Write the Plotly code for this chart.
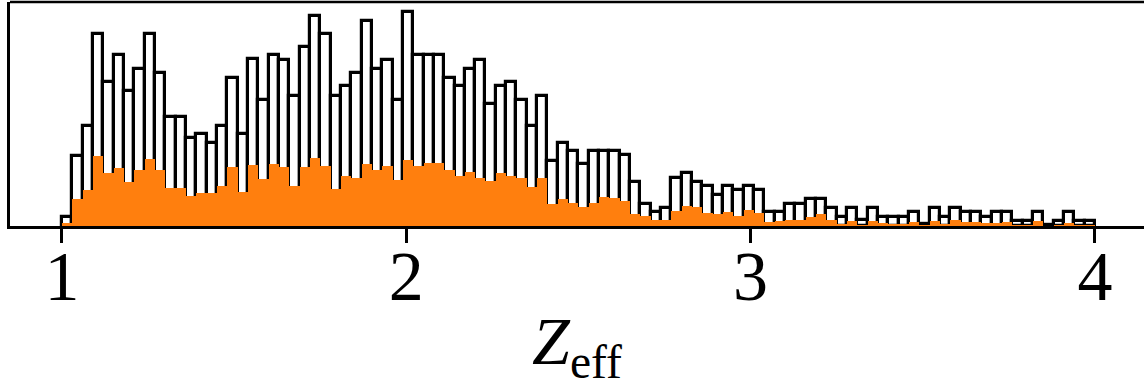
import numpy as np
import plotly.graph_objects as go

# Histogram bins: 100 bins between Z_eff = 1 and 4
bin_lo, bin_hi, n_bins = 1.0, 4.0, 100

# Counts (arbitrary units)
all_counts = [
    9, 70, 100, 193, 145, 172, 136, 158, 193, 154,
    109, 109, 88, 92, 83, 100, 149, 92, 168, 127,
    172, 167, 131, 180, 211, 193, 131, 141, 154, 206,
    158, 167, 127, 215, 172, 172, 172, 149, 141, 158,
    167, 123, 141, 145, 127, 100, 131, 65, 83, 75,
    62, 75, 75, 75, 71, 44, 22, 14, 18, 48,
    53, 44, 40, 31, 40, 36, 40, 36, 14, 14,
    22, 22, 27, 27, 18, 9, 18, 6, 18, 9,
    9, 9, 14, 2, 18, 9, 18, 14, 14, 9,
    14, 14, 5, 5, 14, 1, 5, 14, 5, 5,
]
sub_counts = [
    3, 27, 36, 70, 53, 58, 44, 56, 67, 56,
    38, 38, 30, 33, 33, 40, 59, 34, 61, 47,
    62, 59, 40, 59, 68, 60, 37, 50, 48, 62,
    56, 60, 46, 66, 60, 63, 63, 56, 50, 54,
    48, 45, 53, 50, 48, 39, 48, 22, 27, 23,
    19, 23, 29, 28, 25, 12, 10, 6, 6, 15,
    20, 19, 13, 12, 14, 10, 16, 13, 4, 5,
    6, 6, 9, 12, 6, 2, 5, 1, 5, 3,
    2, 2, 4, 1, 5, 2, 6, 4, 4, 3,
    3, 4, 1, 1, 5, 0, 1, 3, 1, 1,
]

tick_vals = [1, 2, 3, 4]
tick_text = ["1", "2", "3", "4"]

edges = np.linspace(bin_lo, bin_hi, n_bins + 1)
centers = 0.5 * (edges[:-1] + edges[1:])
bw = edges[1] - edges[0]

fig = go.Figure()
fig.add_trace(go.Bar(
    x=centers, y=all_counts, width=bw,
    marker=dict(color="white", line=dict(color="black", width=3.2)),
    showlegend=False,
))
fig.add_trace(go.Bar(
    x=centers, y=sub_counts, width=bw,
    marker=dict(color="#ff7f0e", line=dict(width=0)),
    showlegend=False,
))

font_family = "Liberation Serif, DejaVu Serif, serif"
fig.update_layout(
    width=1144, height=388,
    barmode="overlay", bargap=0,
    paper_bgcolor="white", plot_bgcolor="white",
    margin=dict(l=10, r=0, t=2, b=162, autoexpand=False),
    font=dict(family=font_family, color="black", size=60),
    xaxis=dict(
        range=[0.849, 4.1426],
        tickvals=tick_vals, ticktext=tick_text,
        ticks="outside", ticklen=14, tickwidth=2.5, tickcolor="black",
        showline=True, linecolor="black", linewidth=2.5, mirror=False,
        showgrid=False, zeroline=False, automargin=False,
        tickfont=dict(size=70, family=font_family),
        ticklabelstandoff=-27,
        title=dict(text="<i>Z</i><sub>eff</sub>", font=dict(size=68, family=font_family), standoff=9),
    ),
    yaxis=dict(
        range=[0, 225],
        showticklabels=False, ticks="",
        showline=True, linecolor="black", linewidth=2.5,
        showgrid=False, zeroline=False, automargin=False,
    ),
    shapes=[dict(type="line", xref="paper", yref="paper", x0=0, x1=1, y0=1, y1=1,
                 line=dict(color="black", width=2.5))],
)

fig.write_html("out.html", config={"displayModeBar": False},
               post_script="document.body.style.margin='0';document.body.style.padding='0';")
